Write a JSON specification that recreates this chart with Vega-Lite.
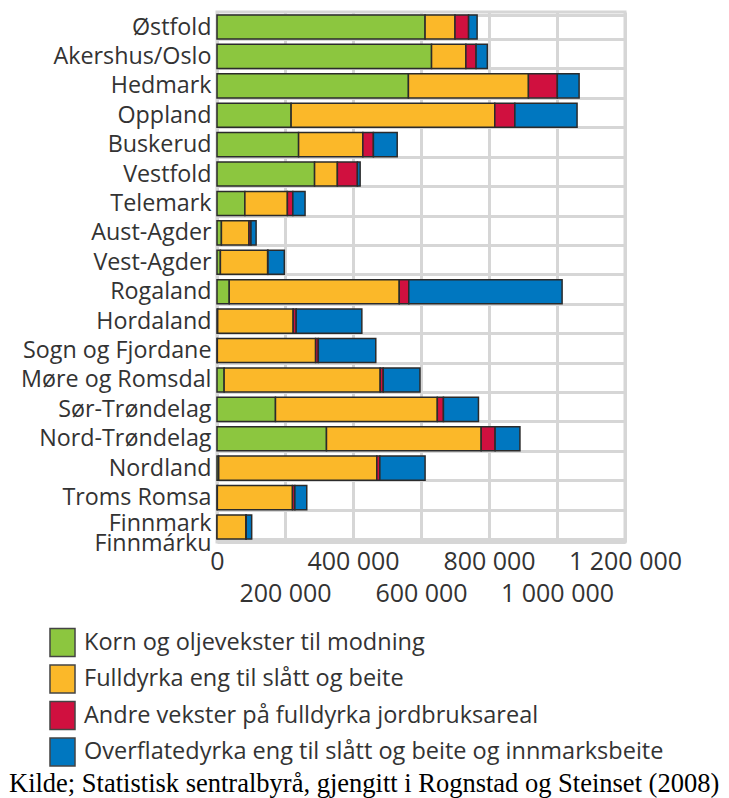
{
  "$schema": "https://vega.github.io/schema/vega-lite/v6.json",
  "autosize": {"type": "none"},
  "width": 408,
  "height": 530,
  "padding": {"left": 217, "top": 12, "right": 104, "bottom": 256},
  "background": "white",
  "title": {
    "text": "Kilde; Statistisk sentralbyrå, gjengitt i Rognstad og Steinset (2008)",
    "orient": "bottom",
    "anchor": "start",
    "frame": "group",
    "dx": -208,
    "offset": 2,
    "font": "Liberation Serif",
    "fontSize": 26.5,
    "fontWeight": "normal",
    "color": "#000000"
  },
  "data": {
    "values": [
      {"region": "Østfold", "type": "Korn og oljevekster til modning", "k": 1, "value": 612000},
      {"region": "Østfold", "type": "Fulldyrka eng til slått og beite", "k": 2, "value": 88000},
      {"region": "Østfold", "type": "Andre vekster på fulldyrka jordbruksareal", "k": 3, "value": 40000},
      {"region": "Østfold", "type": "Overflatedyrka eng til slått og beite og innmarksbeite", "k": 4, "value": 25000},
      {"region": "Akershus/Oslo", "type": "Korn og oljevekster til modning", "k": 1, "value": 631000},
      {"region": "Akershus/Oslo", "type": "Fulldyrka eng til slått og beite", "k": 2, "value": 101000},
      {"region": "Akershus/Oslo", "type": "Andre vekster på fulldyrka jordbruksareal", "k": 3, "value": 30000},
      {"region": "Akershus/Oslo", "type": "Overflatedyrka eng til slått og beite og innmarksbeite", "k": 4, "value": 33000},
      {"region": "Hedmark", "type": "Korn og oljevekster til modning", "k": 1, "value": 563000},
      {"region": "Hedmark", "type": "Fulldyrka eng til slått og beite", "k": 2, "value": 353000},
      {"region": "Hedmark", "type": "Andre vekster på fulldyrka jordbruksareal", "k": 3, "value": 85000},
      {"region": "Hedmark", "type": "Overflatedyrka eng til slått og beite og innmarksbeite", "k": 4, "value": 64000},
      {"region": "Oppland", "type": "Korn og oljevekster til modning", "k": 1, "value": 218000},
      {"region": "Oppland", "type": "Fulldyrka eng til slått og beite", "k": 2, "value": 599000},
      {"region": "Oppland", "type": "Andre vekster på fulldyrka jordbruksareal", "k": 3, "value": 59000},
      {"region": "Oppland", "type": "Overflatedyrka eng til slått og beite og innmarksbeite", "k": 4, "value": 183000},
      {"region": "Buskerud", "type": "Korn og oljevekster til modning", "k": 1, "value": 240000},
      {"region": "Buskerud", "type": "Fulldyrka eng til slått og beite", "k": 2, "value": 189000},
      {"region": "Buskerud", "type": "Andre vekster på fulldyrka jordbruksareal", "k": 3, "value": 31000},
      {"region": "Buskerud", "type": "Overflatedyrka eng til slått og beite og innmarksbeite", "k": 4, "value": 70000},
      {"region": "Vestfold", "type": "Korn og oljevekster til modning", "k": 1, "value": 287000},
      {"region": "Vestfold", "type": "Fulldyrka eng til slått og beite", "k": 2, "value": 67000},
      {"region": "Vestfold", "type": "Andre vekster på fulldyrka jordbruksareal", "k": 3, "value": 59000},
      {"region": "Vestfold", "type": "Overflatedyrka eng til slått og beite og innmarksbeite", "k": 4, "value": 8000},
      {"region": "Telemark", "type": "Korn og oljevekster til modning", "k": 1, "value": 82000},
      {"region": "Telemark", "type": "Fulldyrka eng til slått og beite", "k": 2, "value": 125000},
      {"region": "Telemark", "type": "Andre vekster på fulldyrka jordbruksareal", "k": 3, "value": 16000},
      {"region": "Telemark", "type": "Overflatedyrka eng til slått og beite og innmarksbeite", "k": 4, "value": 36000},
      {"region": "Aust-Agder", "type": "Korn og oljevekster til modning", "k": 1, "value": 13000},
      {"region": "Aust-Agder", "type": "Fulldyrka eng til slått og beite", "k": 2, "value": 81000},
      {"region": "Aust-Agder", "type": "Andre vekster på fulldyrka jordbruksareal", "k": 3, "value": 6000},
      {"region": "Aust-Agder", "type": "Overflatedyrka eng til slått og beite og innmarksbeite", "k": 4, "value": 15000},
      {"region": "Vest-Agder", "type": "Korn og oljevekster til modning", "k": 1, "value": 10000},
      {"region": "Vest-Agder", "type": "Fulldyrka eng til slått og beite", "k": 2, "value": 139000},
      {"region": "Vest-Agder", "type": "Andre vekster på fulldyrka jordbruksareal", "k": 3, "value": 1000},
      {"region": "Vest-Agder", "type": "Overflatedyrka eng til slått og beite og innmarksbeite", "k": 4, "value": 48000},
      {"region": "Rogaland", "type": "Korn og oljevekster til modning", "k": 1, "value": 36000},
      {"region": "Rogaland", "type": "Fulldyrka eng til slått og beite", "k": 2, "value": 500000},
      {"region": "Rogaland", "type": "Andre vekster på fulldyrka jordbruksareal", "k": 3, "value": 28000},
      {"region": "Rogaland", "type": "Overflatedyrka eng til slått og beite og innmarksbeite", "k": 4, "value": 451000},
      {"region": "Hordaland", "type": "Korn og oljevekster til modning", "k": 1, "value": 2000},
      {"region": "Hordaland", "type": "Fulldyrka eng til slått og beite", "k": 2, "value": 222000},
      {"region": "Hordaland", "type": "Andre vekster på fulldyrka jordbruksareal", "k": 3, "value": 9000},
      {"region": "Hordaland", "type": "Overflatedyrka eng til slått og beite og innmarksbeite", "k": 4, "value": 193000},
      {"region": "Sogn og Fjordane", "type": "Korn og oljevekster til modning", "k": 1, "value": 1000},
      {"region": "Sogn og Fjordane", "type": "Fulldyrka eng til slått og beite", "k": 2, "value": 289000},
      {"region": "Sogn og Fjordane", "type": "Andre vekster på fulldyrka jordbruksareal", "k": 3, "value": 8000},
      {"region": "Sogn og Fjordane", "type": "Overflatedyrka eng til slått og beite og innmarksbeite", "k": 4, "value": 169000},
      {"region": "Møre og Romsdal", "type": "Korn og oljevekster til modning", "k": 1, "value": 21000},
      {"region": "Møre og Romsdal", "type": "Fulldyrka eng til slått og beite", "k": 2, "value": 459000},
      {"region": "Møre og Romsdal", "type": "Andre vekster på fulldyrka jordbruksareal", "k": 3, "value": 9000},
      {"region": "Møre og Romsdal", "type": "Overflatedyrka eng til slått og beite og innmarksbeite", "k": 4, "value": 108000},
      {"region": "Sør-Trøndelag", "type": "Korn og oljevekster til modning", "k": 1, "value": 172000},
      {"region": "Sør-Trøndelag", "type": "Fulldyrka eng til slått og beite", "k": 2, "value": 476000},
      {"region": "Sør-Trøndelag", "type": "Andre vekster på fulldyrka jordbruksareal", "k": 3, "value": 18000},
      {"region": "Sør-Trøndelag", "type": "Overflatedyrka eng til slått og beite og innmarksbeite", "k": 4, "value": 103000},
      {"region": "Nord-Trøndelag", "type": "Korn og oljevekster til modning", "k": 1, "value": 322000},
      {"region": "Nord-Trøndelag", "type": "Fulldyrka eng til slått og beite", "k": 2, "value": 455000},
      {"region": "Nord-Trøndelag", "type": "Andre vekster på fulldyrka jordbruksareal", "k": 3, "value": 41000},
      {"region": "Nord-Trøndelag", "type": "Overflatedyrka eng til slått og beite og innmarksbeite", "k": 4, "value": 73000},
      {"region": "Nordland", "type": "Korn og oljevekster til modning", "k": 1, "value": 5000},
      {"region": "Nordland", "type": "Fulldyrka eng til slått og beite", "k": 2, "value": 465000},
      {"region": "Nordland", "type": "Andre vekster på fulldyrka jordbruksareal", "k": 3, "value": 9000},
      {"region": "Nordland", "type": "Overflatedyrka eng til slått og beite og innmarksbeite", "k": 4, "value": 133000},
      {"region": "Troms Romsa", "type": "Korn og oljevekster til modning", "k": 1, "value": 1000},
      {"region": "Troms Romsa", "type": "Fulldyrka eng til slått og beite", "k": 2, "value": 221000},
      {"region": "Troms Romsa", "type": "Andre vekster på fulldyrka jordbruksareal", "k": 3, "value": 7000},
      {"region": "Troms Romsa", "type": "Overflatedyrka eng til slått og beite og innmarksbeite", "k": 4, "value": 35000},
      {"region": "Finnmark Finnmárku", "type": "Korn og oljevekster til modning", "k": 1, "value": 0},
      {"region": "Finnmark Finnmárku", "type": "Fulldyrka eng til slått og beite", "k": 2, "value": 85000},
      {"region": "Finnmark Finnmárku", "type": "Andre vekster på fulldyrka jordbruksareal", "k": 3, "value": 1000},
      {"region": "Finnmark Finnmárku", "type": "Overflatedyrka eng til slått og beite og innmarksbeite", "k": 4, "value": 16000}
    ]
  },
  "mark": {"type": "bar", "stroke": "#2b2b2b", "strokeWidth": 1.5},
  "encoding": {
    "y": {
      "field": "region",
      "type": "nominal",
      "sort": null,
      "scale": {"paddingInner": 0.18, "paddingOuter": 0.1},
      "axis": {
        "title": null,
        "ticks": false,
        "grid": true,
        "tickBand": "extent",
        "gridColor": "#d6d6d6",
        "gridWidth": 3,
        "domainColor": "#d6d6d6",
        "domainWidth": 3,
        "labelFont": "Open Sans",
        "labelFontSize": 23.3,
        "labelColor": "#333333",
        "labelPadding": 6,
        "labelLimit": 300,
        "labelLineHeight": 20,
        "labelOffset": {"condition": {"test": "datum.value == 'Finnmark Finnmárku'", "value": -4}, "value": 0},
        "labelExpr": "datum.value == 'Finnmark Finnmárku' ? ['Finnmark', 'Finnmárku'] : datum.value"
      }
    },
    "x": {
      "field": "value",
      "type": "quantitative",
      "stack": "zero",
      "scale": {"domain": [0, 1200000], "nice": false},
      "axis": {
        "title": null,
        "values": [0, 200000, 400000, 600000, 800000, 1000000, 1200000],
        "ticks": false,
        "grid": true,
        "gridColor": "#d6d6d6",
        "gridWidth": 3,
        "domainColor": "#d6d6d6",
        "domainWidth": 3,
        "labelFont": "Open Sans",
        "labelFontSize": 25,
        "labelColor": "#333333",
        "labelPadding": 7,
        "labelFlush": false,
        "labelOverlap": false,
        "labelLineHeight": 32,
        "labelExpr": "datum.value % 400000 == 0 ? replace(format(datum.value, ','), regexp(',', 'g'), ' ') : ['', replace(format(datum.value, ','), regexp(',', 'g'), ' ')]"
      }
    },
    "color": {
      "field": "type",
      "type": "nominal",
      "sort": null,
      "scale": {
        "domain": [
          "Korn og oljevekster til modning",
          "Fulldyrka eng til slått og beite",
          "Andre vekster på fulldyrka jordbruksareal",
          "Overflatedyrka eng til slått og beite og innmarksbeite"
        ],
        "range": ["#8cc63f", "#fbb829", "#d0103f", "#0077c0"]
      },
      "legend": {
        "orient": "none",
        "legendX": -169,
        "legendY": 616,
        "title": null,
        "symbolType": "M-0.94,-1.05H0.94V1.05H-0.94Z",
        "symbolSize": 708,
        "symbolStrokeColor": "#444444",
        "symbolStrokeWidth": 1.5,
        "symbolOpacity": 1,
        "labelFont": "Open Sans",
        "labelFontSize": 23.5,
        "labelColor": "#333333",
        "labelOffset": 7,
        "labelLimit": 700,
        "rowPadding": 1.5
      }
    },
    "order": {"field": "k", "type": "quantitative"}
  },
  "config": {
    "view": {"stroke": "#d6d6d6", "strokeWidth": 3}
  }
}
